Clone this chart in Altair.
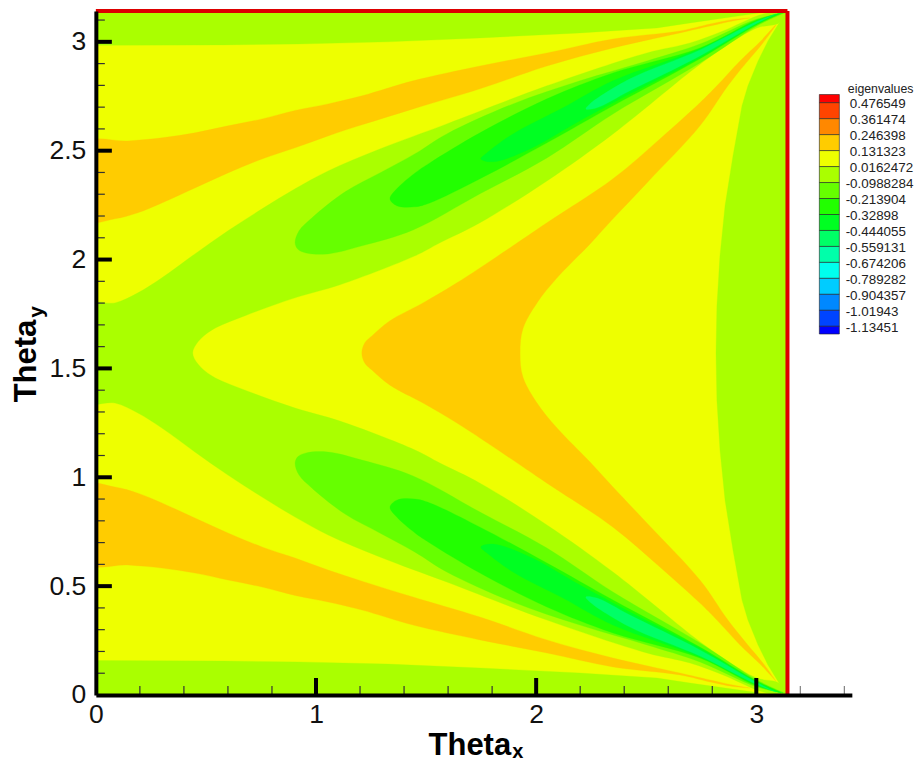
import altair as alt
import pandas as pd

YELLOW, LIME, ORANGE = "#EEFF00", "#AAFF00", "#FFCC00"
G1, G2, G3, G4 = "#66FF00", "#22FF00", "#00FF22", "#00FF66"

strip_low = [[0,.158],[.578,.156],[.918,.152],[1.327,.142],[1.745,.124],[2.199,.101],[2.549,.078],[2.699,.055],[3.003,.011],[3.085,0],[0,0]]
strip_high = [[0,2.984],[.578,2.986],[.918,2.990],[1.327,3.000],[1.745,3.018],[2.199,3.041],[2.549,3.064],[2.699,3.087],[3.003,3.131],[3.085,3.142],[0,3.142]]
strip_right = [[3.142,0],[3.103,.055],[3.053,.138],[3.008,.230],[2.962,.344],[2.935,.436],[2.894,.666],[2.858,.895],[2.835,1.125],[2.821,1.354],[2.817,1.571],
               [2.821,1.788],[2.835,2.017],[2.858,2.247],[2.894,2.476],[2.935,2.706],[2.962,2.798],[3.008,2.912],[3.053,3.004],[3.103,3.087],[3.142,3.142]]
central = [[-.05,1.347],[.087,1.341],[.191,1.295],[.300,1.226],[.450,1.116],[.600,1.010],[.755,.909],[.905,.817],[1.055,.735],[1.290,.634],[1.594,.519],[2.049,.344],[2.503,.193],[2.699,.147],[2.849,.092],[3.003,.023],[3.062,.007],[3.142,0],
           [3.103,.055],[3.003,.078],[2.849,.170],[2.722,.262],[2.349,.565],[2.049,.781],[1.745,.973],[1.563,1.065],[1.450,1.125],[1.109,1.258],[.905,1.318],[.678,1.400],[.528,1.465],[.464,1.520],[.440,1.571],
           [.464,1.622],[.528,1.677],[.678,1.742],[.905,1.824],[1.109,1.884],[1.450,2.017],[1.563,2.077],[1.745,2.169],[2.049,2.361],[2.349,2.577],[2.722,2.880],[2.849,2.972],[3.003,3.064],[3.103,3.087],[3.142,3.142],
           [3.062,3.135],[3.003,3.119],[2.849,3.050],[2.699,2.995],[2.503,2.949],[2.049,2.798],[1.594,2.623],[1.290,2.508],[1.055,2.407],[.905,2.325],[.755,2.233],[.600,2.132],[.450,2.026],[.300,1.916],[.191,1.847],[.087,1.801],[-.05,1.795]]
band_low = [[-.05,.964],[.087,.955],[.191,.927],[.300,.882],[.450,.813],[.600,.744],[.755,.680],[.905,.629],[1.055,.574],[1.209,.523],[1.441,.450],[1.745,.358],[2.049,.253],[2.349,.170],[2.653,.101],[2.790,.069],[2.894,.046],[2.971,.032],
            [2.894,.039],[2.790,.060],[2.653,.092],[2.349,.129],[2.049,.193],[1.745,.253],[1.441,.321],[1.209,.390],[1.055,.427],[.905,.457],[.755,.496],[.600,.528],[.450,.560],[.300,.583],[.146,.597],[-.05,.606]]
band_high = [[-.05,2.178],[.087,2.187],[.191,2.215],[.300,2.260],[.450,2.329],[.600,2.398],[.755,2.462],[.905,2.513],[1.055,2.568],[1.209,2.619],[1.441,2.692],[1.745,2.784],[2.049,2.889],[2.349,2.972],[2.653,3.041],[2.790,3.073],[2.894,3.096],[2.971,3.110],
             [2.894,3.103],[2.790,3.082],[2.653,3.050],[2.349,3.013],[2.049,2.949],[1.745,2.889],[1.441,2.821],[1.209,2.752],[1.055,2.715],[.905,2.685],[.755,2.646],[.600,2.614],[.450,2.582],[.300,2.559],[.146,2.545],[-.05,2.536]]
hyperbola = [[1.208,1.571],[1.222,1.524],[1.255,1.492],[1.336,1.423],[1.486,1.341],[1.640,1.249],[1.868,1.097],[2.049,.973],[2.349,.771],[2.562,.588],[2.744,.422],[2.821,.344],[2.926,.230],[3.017,.142],[3.089,.064],
             [3.030,.147],[2.958,.234],[2.871,.344],[2.744,.528],[2.503,.790],[2.349,.955],[2.245,1.070],[2.095,1.226],[2.004,1.341],[1.940,1.460],[1.927,1.571],
             [1.940,1.682],[2.004,1.801],[2.095,1.916],[2.245,2.072],[2.349,2.187],[2.503,2.352],[2.744,2.614],[2.871,2.798],[2.958,2.908],[3.030,2.995],[3.089,3.078],
             [3.017,3.000],[2.926,2.912],[2.821,2.798],[2.744,2.720],[2.562,2.554],[2.349,2.371],[2.049,2.169],[1.868,2.045],[1.640,1.893],[1.486,1.801],[1.336,1.719],[1.255,1.650],[1.222,1.618]]
g1_low = [[.905,1.065],[.918,1.095],[.955,1.112],[1.055,1.116],[1.209,1.079],[1.441,1.006],[1.745,.840],[2.049,.675],[2.349,.473],[2.744,.239],[3.003,.069],[3.130,.009],[3.003,.037],[2.744,.152],[2.503,.230],[2.199,.321],[1.895,.427],[1.594,.565],[1.450,.656],[1.290,.744],[1.132,.831],[.982,.950],[.923,1.010]]
g1_high = [[.905,2.077],[.918,2.047],[.955,2.030],[1.055,2.026],[1.209,2.063],[1.441,2.136],[1.745,2.302],[2.049,2.467],[2.349,2.669],[2.744,2.903],[3.003,3.073],[3.130,3.133],[3.003,3.105],[2.744,2.990],[2.503,2.912],[2.199,2.821],[1.895,2.715],[1.594,2.577],[1.450,2.486],[1.290,2.398],[1.132,2.311],[.982,2.192],[.923,2.132]]
g2_low = [[1.336,.863],[1.367,.895],[1.450,.900],[1.517,.882],[1.745,.771],[2.049,.606],[2.349,.436],[2.744,.220],[3.003,.064],[3.121,.009],[3.003,.041],[2.744,.170],[2.349,.285],[2.049,.404],[1.745,.560],[1.517,.698],[1.450,.744],[1.367,.817]]
g2_high = [[1.336,2.279],[1.367,2.247],[1.450,2.242],[1.517,2.260],[1.745,2.371],[2.049,2.536],[2.349,2.706],[2.744,2.922],[3.003,3.078],[3.121,3.133],[3.003,3.101],[2.744,2.972],[2.349,2.857],[2.049,2.738],[1.745,2.582],[1.517,2.444],[1.450,2.398],[1.367,2.325]]
g3_low = [[1.749,.680],[1.804,.693],[1.972,.634],[2.199,.505],[2.426,.381],[2.744,.216],[3.003,.060],[3.112,.009],[3.003,.046],[2.744,.174],[2.349,.321],[2.122,.445],[1.895,.565],[1.777,.652]]
g3_high = [[1.749,2.462],[1.804,2.449],[1.972,2.508],[2.199,2.637],[2.426,2.761],[2.744,2.926],[3.003,3.082],[3.112,3.133],[3.003,3.096],[2.744,2.968],[2.349,2.821],[2.122,2.697],[1.895,2.577],[1.777,2.490]]
g4_low = [[2.226,.450],[2.276,.445],[2.426,.367],[2.744,.207],[3.003,.057],[3.089,.014],[3.003,.048],[2.744,.179],[2.426,.312],[2.244,.427]]
g4_high = [[2.226,2.692],[2.276,2.697],[2.426,2.775],[2.744,2.935],[3.003,3.085],[3.089,3.128],[3.003,3.094],[2.744,2.963],[2.426,2.830],[2.244,2.715]]

regions = [(strip_low, LIME, "linear"), (strip_high, LIME, "linear"), (strip_right, LIME, "linear"),
           (central, LIME, "catmull-rom"), (band_low, ORANGE, "catmull-rom"), (band_high, ORANGE, "catmull-rom"),
           (hyperbola, ORANGE, "catmull-rom"), (g1_low, G1, "catmull-rom"), (g1_high, G1, "catmull-rom"),
           (g2_low, G2, "catmull-rom"), (g2_high, G2, "catmull-rom"), (g3_low, G3, "catmull-rom"),
           (g3_high, G3, "catmull-rom"), (g4_low, G4, "catmull-rom"), (g4_high, G4, "catmull-rom")]

levels = [0.476549, 0.361474, 0.246398, 0.131323, 0.0162472, -0.0988284, -0.213904, -0.32898,
          -0.444055, -0.559131, -0.674206, -0.789282, -0.904357, -1.01943, -1.13451]
level_labels = ["0.476549", "0.361474", "0.246398", "0.131323", "0.0162472", "-0.0988284", "-0.213904", "-0.32898",
                "-0.444055", "-0.559131", "-0.674206", "-0.789282", "-0.904357", "-1.01943", "-1.13451"]
band_edges = [0.5355] + levels + [-1.19]
band_colors = ["#FF0000", "#FF4400", "#FF8800", "#FFCC00", "#EEFF00", "#AAFF00", "#66FF00", "#22FF00",
               "#00FF22", "#00FF66", "#00FFAA", "#00FFEE", "#00CCFF", "#0088FF", "#0044FF", "#0000FF"]

x_major = [1, 2, 3]
y_major = [0.5, 1, 1.5, 2, 2.5, 3]
x_minor = [.2, .4, .6, .8, 1.2, 1.4, 1.6, 1.8, 2.2, 2.4, 2.6, 2.8]
x_minor_outer = [3.2, 3.4]
y_minor = [.1, .2, .3, .4, .6, .7, .8, .9, 1.1, 1.2, 1.3, 1.4, 1.6, 1.7, 1.8, 1.9, 2.1, 2.2, 2.3, 2.4, 2.6, 2.7, 2.8, 2.9, 3.1]
PI = 3.1416

W, H = 756, 684
xs = alt.Scale(domain=[0, 3.434], nice=False, zero=False)
ys = alt.Scale(domain=[0, PI], nice=False, zero=False)
X = alt.X("x:Q", scale=xs, axis=alt.Axis(title=None, values=[0, 1, 2, 3], format="~g", grid=False, tickSize=0, domainColor="black", domainWidth=4,
          labelFont="Liberation Sans", labelFontSize=26.5, labelColor="#111", labelPadding=7, labelFlush=False, labelOverlap=False, zindex=1))
Y = alt.Y("y:Q", scale=ys, axis=alt.Axis(title=None, values=[0, .5, 1, 1.5, 2, 2.5, 3], format="~g", grid=False, tickSize=0, domainColor="black", domainWidth=4,
          labelFont="Liberation Sans", labelFontSize=26.5, labelColor="#111", labelPadding=10, labelFlush=False, labelOverlap=False, zindex=1))

base = alt.Chart(pd.DataFrame({"x": [0.], "x2": [PI], "y": [0.], "y2": [PI]})).mark_rect(color=YELLOW).encode(x=X, x2="x2:Q", y=Y, y2="y2:Q")

layers = [base]
for pts, col, interp in regions:
    k = max(range(len(pts)), key=lambda i: pts[i][0])
    ring = pts[k:] + pts[:k] + [pts[k]]
    df = pd.DataFrame(ring, columns=["x", "y"])
    df["i"] = range(len(df))
    layers.append(alt.Chart(df).mark_line(fill=col, stroke=col, strokeWidth=0.3, interpolate=interp, clip=True).encode(
        x=alt.X("x:Q", scale=xs), y=alt.Y("y:Q", scale=ys), order="i:Q"))

red = alt.Chart(pd.DataFrame({"x": [0, PI], "x2": [PI, PI], "y": [PI, 0], "y2": [PI, PI]})).mark_rule(color="#DD0000", strokeWidth=4).encode(
    x=alt.X("x:Q", scale=xs), x2="x2:Q", y=alt.Y("y:Q", scale=ys), y2="y2:Q")
layers.append(red)

def xticks(vals, length, width, color):
    return alt.Chart(pd.DataFrame({"x": vals})).mark_rule(color=color, strokeWidth=width).encode(
        x=alt.X("x:Q", scale=xs), y=alt.value(H), y2=alt.value(H - length))

def yticks(vals, length, width, color):
    return alt.Chart(pd.DataFrame({"y": vals})).mark_rule(color=color, strokeWidth=width).encode(
        y=alt.Y("y:Q", scale=ys), x=alt.value(0), x2=alt.value(length))

layers += [xticks(x_minor, 9, 1.2, "#333"), xticks(x_minor_outer, 9, 1.2, "#808080"), xticks(x_major, 17, 4, "black"),
           yticks(y_minor, 9, 1.2, "#333"), yticks(y_major, 16, 4, "black")]

def label(text, x, y, size, bold=False, angle=0):
    return alt.Chart(pd.DataFrame({"t": [text]})).mark_text(font="Liberation Sans", fontSize=size, fontWeight="bold" if bold else "normal",
        color="black", angle=angle, align="center", baseline="alphabetic").encode(text="t:N", x=alt.value(x), y=alt.value(y))

layers += [label("Theta", 374, 744, 31, True), label("x", 422, 747, 20, True),
           label("Theta", -60, 350, 31, True, 270), label("y", -53, 301, 21, True, 270)]
main = alt.layer(*layers)

ls = alt.Scale(domain=[-1.13451, 0.476549], range=[315.3, 91.7], nice=False, zero=False)
bars = pd.DataFrame({"a": band_edges[:-1], "b": band_edges[1:], "c": band_colors})
bar = alt.Chart(bars).mark_rect(stroke="#222", strokeWidth=0.6).encode(
    x=alt.value(723.5), x2=alt.value(743.5),
    y=alt.Y("a:Q", scale=ls, axis=None), y2="b:Q",
    color=alt.Color("c:N", scale=None, legend=None))
lab = pd.DataFrame({"v": levels, "t": level_labels})
def ltext(df, x):
    return alt.Chart(df).mark_text(font="Liberation Sans", fontSize=13.4, color="#222", align="left", baseline="middle", dy=1.5).encode(
        x=alt.value(x), y=alt.Y("v:Q", scale=ls, axis=None), text="t:N")
pos = ltext(lab[lab.v > 0], 754)
neg = ltext(lab[lab.v < 0], 749.8)
head = alt.Chart(pd.DataFrame({"t": ["eigenvalues"]})).mark_text(font="Liberation Sans", fontSize=12.3, color="#222", align="left", baseline="middle").encode(
    x=alt.value(752), y=alt.value(78), text="t:N")
legend = alt.layer(bar, pos, neg, head)

chart = alt.layer(main, legend).resolve_scale(y="independent").properties(
    width=W, height=H, autosize=alt.AutoSizeParams(type="none"),
    padding={"left": 87.85, "top": 3, "right": 62, "bottom": 67}
).configure_view(stroke=None)

chart.save("out.html", embed_options={"renderer": "svg", "actions": False})
